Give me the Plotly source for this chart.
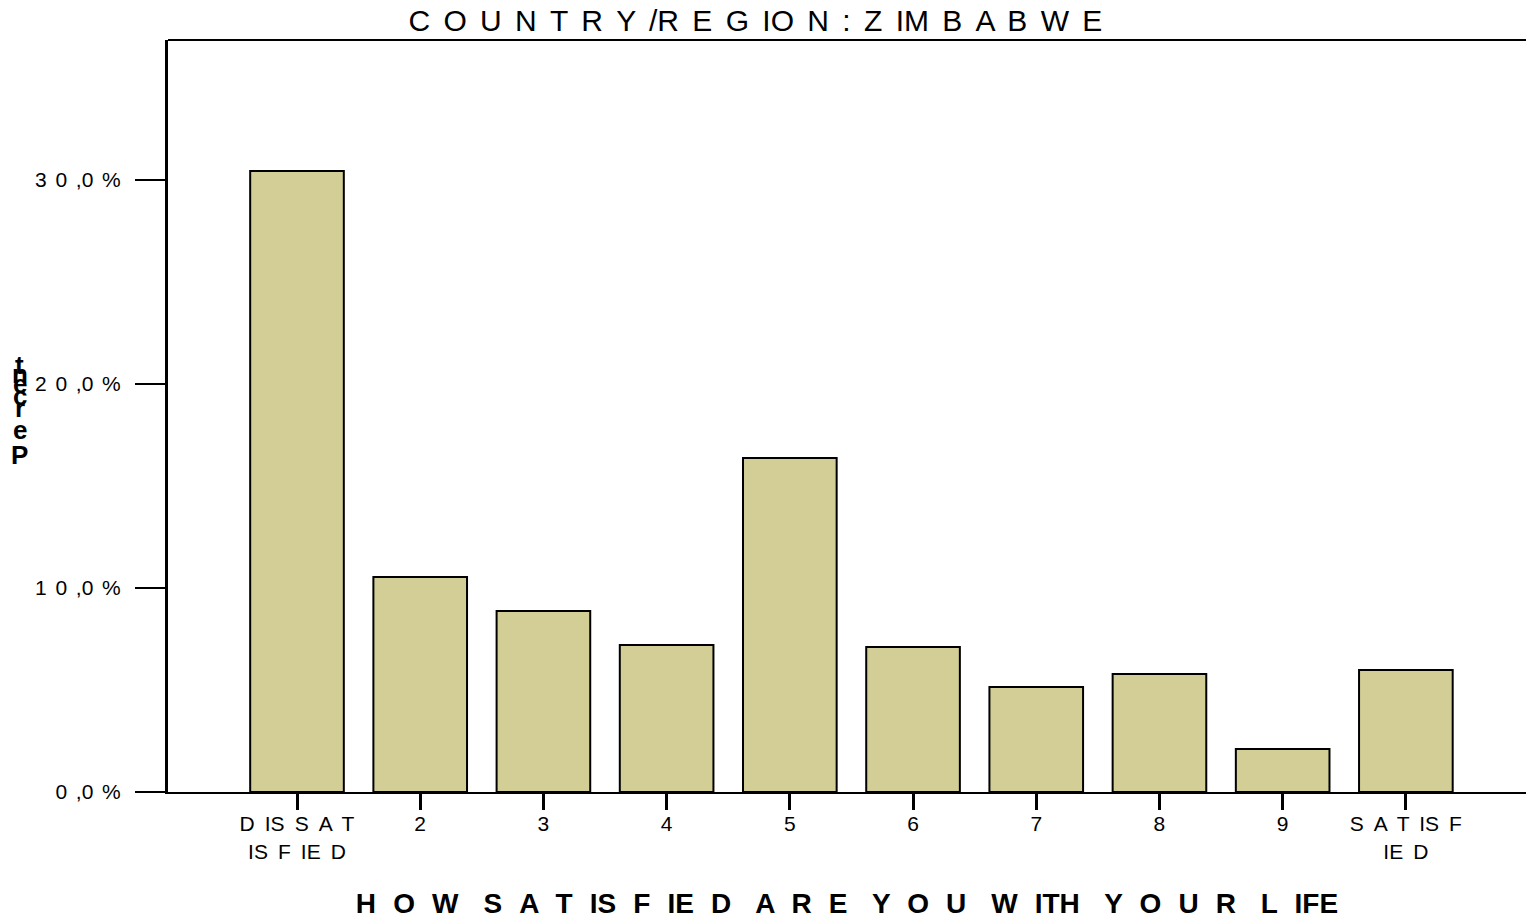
import plotly.graph_objects as go

categories = ['D IS S A T<br>IS F IE D', '2', '3', '4', '5', '6', '7', '8', '9', 'S A T IS F<br>IE D']
percent = [30.44, 10.54, 8.87, 7.21, 16.37, 7.11, 5.15, 5.78, 2.11, 5.98]
y_ticks = [0, 10, 20, 30]
y_ticktext = ['0 ,0 %', '1 0 ,0 %', '2 0 ,0 %', '3 0 ,0 %']

FONT = 'Liberation Sans, Arial, sans-serif'
positions = list(range(len(categories)))


def spaced(s, sep):
    # widen the gaps to mimic the spaced-out lettering of the original
    return s.replace(' ', sep)


fig = go.Figure()
fig.add_trace(go.Bar(
    x=positions, y=percent, width=0.76,
    marker=dict(color='#D3CE96', line=dict(color='black', width=2)),
    showlegend=False
))

fig.update_layout(
    width=1526, height=920,
    margin=dict(l=168, r=0, t=40, b=128),
    plot_bgcolor='white', paper_bgcolor='white',
    font=dict(family=FONT, color='black'),
    title=dict(text=spaced('C O U N T R Y /R E G IO N : Z IM B A B W E', ' \u2006'),
               x=0.495, xanchor='center', y=0.978, yanchor='middle',
               font=dict(size=30, family=FONT)),
)

x_title = 'H O W|S A T IS F IE D|A R E|Y O U|W ITH|Y O U R|L IFE'
x_title = spaced(x_title, ' \u2004').replace('|', ' \u2004 ')

fig.update_xaxes(
    tickvals=positions, ticktext=[spaced(c, ' \u2009') for c in categories],
    range=[-1.047, 9.975],
    showline=True, linecolor='black', linewidth=2,
    ticks='outside', ticklen=16, tickwidth=3, tickcolor='black',
    tickfont=dict(size=21), ticklabelstandoff=-4,
    showgrid=False, zeroline=False,
    title=dict(text='<b>' + x_title + '</b>', font=dict(size=28), standoff=32),
)
fig.update_yaxes(
    range=[0, 36.86], tickvals=y_ticks,
    ticktext=[spaced(t, '\u2004\u200a') for t in y_ticktext],
    showline=True, linecolor='black', linewidth=3,
    ticks='outside', ticklen=30, tickwidth=2, tickcolor='black',
    tickfont=dict(size=21), ticklabelstandoff=10,
    showgrid=False, zeroline=False,
)

# top frame line
fig.add_shape(type='line', xref='paper', yref='paper', x0=0, x1=1, y0=1, y1=1,
              line=dict(color='black', width=2))

# oddly stacked y-axis label, as in the original
label = 'tnecreP'
shifts = [35, 26, 16, 4, -8, -30, -55]
for ch, dy in zip(label, shifts):
    fig.add_annotation(text='<b>%s</b>' % ch, xref='paper', yref='paper',
                       x=-0.109, y=0.5213, yshift=dy, showarrow=False,
                       font=dict(size=26, family=FONT), xanchor='center', yanchor='middle')

fig.write_html('out.html', config={'displayModeBar': False},
               post_script="document.body.style.margin='0';")
